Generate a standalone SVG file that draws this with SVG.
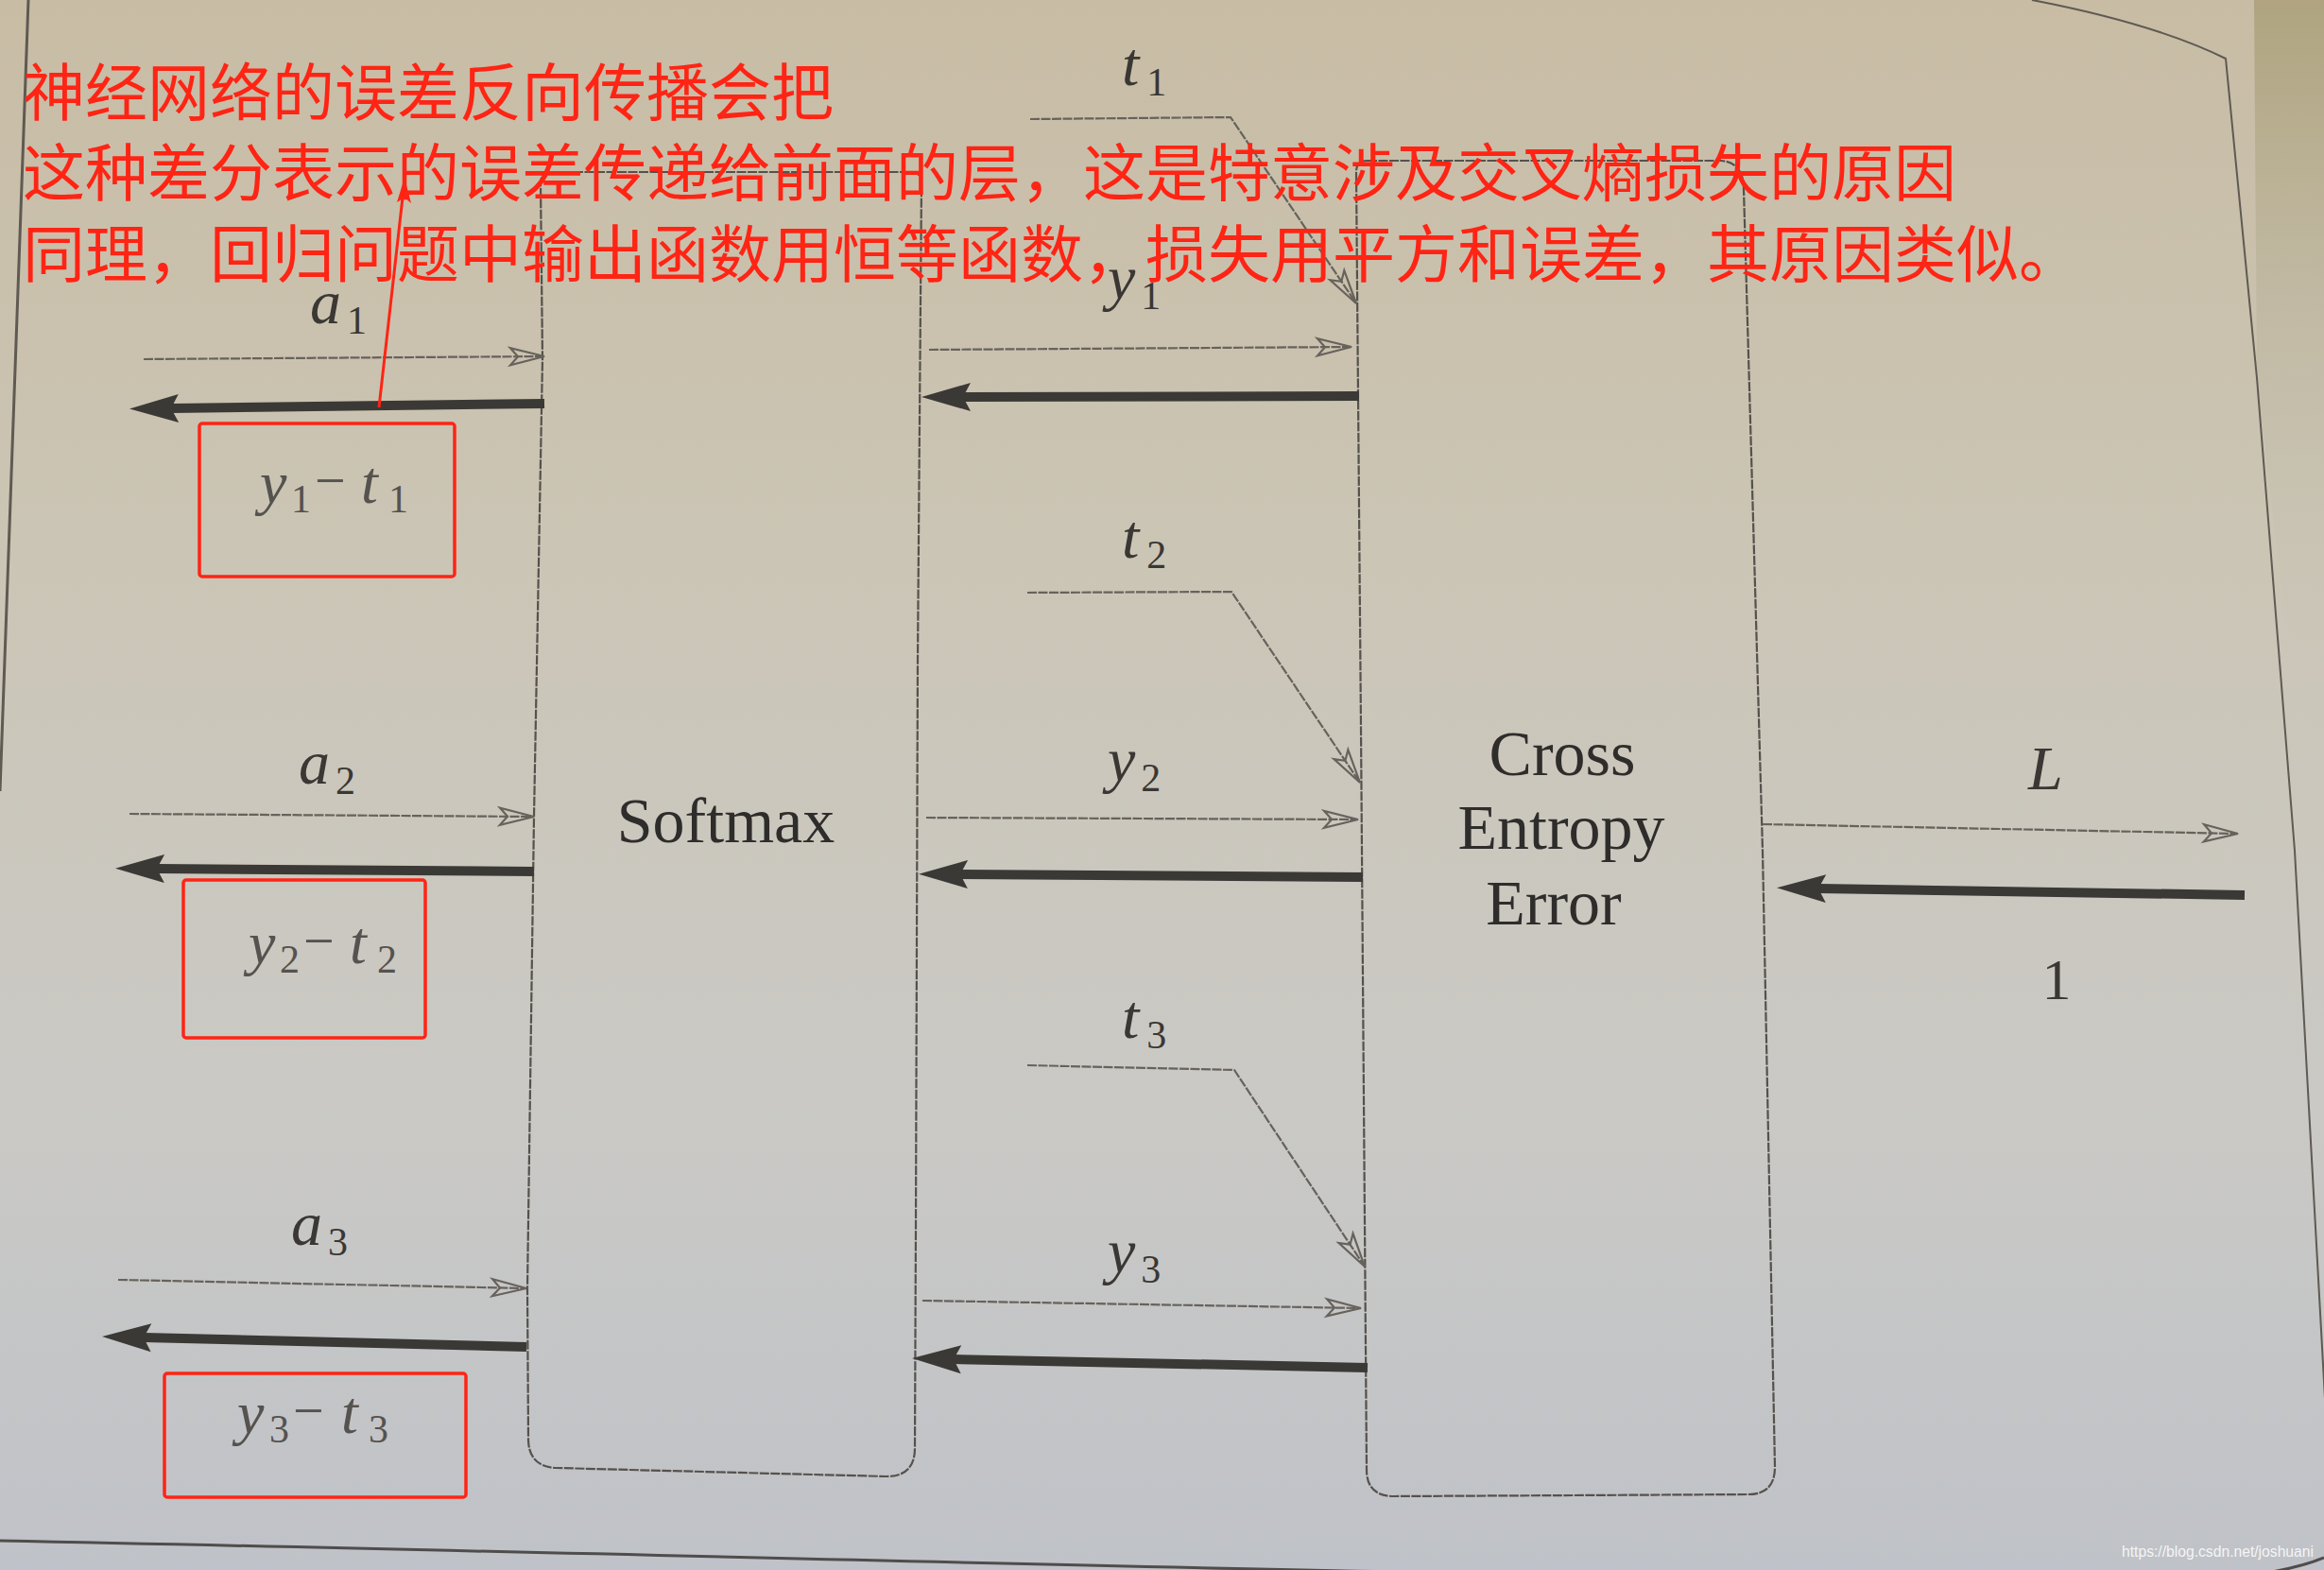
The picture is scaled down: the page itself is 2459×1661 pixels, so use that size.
<svg xmlns="http://www.w3.org/2000/svg" width="2459" height="1661" viewBox="0 0 2459 1661">
<defs>
<linearGradient id="paper" x1="0" y1="0" x2="0" y2="1">
<stop offset="0" stop-color="#c8bca4"/>
<stop offset="0.35" stop-color="#cbc5b5"/>
<stop offset="0.7" stop-color="#cac9c5"/>
<stop offset="1" stop-color="#bfc2c8"/>
</linearGradient>
<linearGradient id="outside" x1="0" y1="0" x2="0" y2="1">
<stop offset="0" stop-color="#afa47f"/>
<stop offset="1" stop-color="#c9c7c0" stop-opacity="0"/>
</linearGradient>
<marker id="open" markerUnits="userSpaceOnUse" markerWidth="60" markerHeight="40" viewBox="-45 -20 60 40" refX="0" refY="0" orient="auto" overflow="visible">
<path d="M0,0 L-36,-9 L-28,0 L-36,9 Z" fill="none" stroke="#67625c" stroke-width="2.2" stroke-linejoin="miter"/>
</marker>
<marker id="solid" markerUnits="userSpaceOnUse" markerWidth="70" markerHeight="40" viewBox="-15 -20 70 40" refX="0" refY="0" orient="auto" overflow="visible">
<path d="M44,0 L-8,-15 L0,0 L-8,15 Z" fill="#3b3936"/>
</marker>
</defs>
<style>
.box{fill:none;stroke:#55514c;stroke-width:2.2;stroke-dasharray:10 1.5}
.fw{fill:none;stroke:#67625c;stroke-width:2.2;stroke-dasharray:10 1.5;marker-end:url(#open)}
.bw{fill:none;stroke:#3b3936;stroke-width:10;marker-end:url(#solid)}
.lbl{font-family:"Liberation Serif",serif;font-style:italic;font-size:66px;fill:#3a3734}
.sub{font-size:42px;font-style:normal}
.name{font-family:"Liberation Serif",serif;font-size:68px;fill:#2f2d2b;text-anchor:middle}
.diff{font-family:"Liberation Serif",serif;font-style:italic;font-size:64px;fill:#55524f}
.mn{font-style:normal;font-size:58px}
.note{font-family:"Noto Sans CJK SC","Noto Sans",sans-serif;font-size:66px;fill:#ff2414}
.redbox{fill:none;stroke:#ff2414;stroke-width:3.5}
</style>

<rect x="0" y="0" width="2459" height="1661" fill="url(#paper)"/>
<path d="M2385,0 L2459,0 L2459,760 L2430,760 L2388,400 Z" fill="url(#outside)"/>
<g id="page-edges" fill="none" stroke="#5f5a52">
<path d="M30,0 L0,837" stroke-width="3"/>
<path d="M2150,0 Q2280,25 2355,62 L2388,400 L2428,900 L2470,1661" stroke-width="2"/>
<path d="M0,1630 C900,1648 1600,1672 2300,1672 C2380,1670 2430,1660 2459,1648" stroke-width="3" stroke="#4f4d4c"/>
</g>

<g id="softmax">
<path class="box" d="M584,182 L963,182 Q975,182 975,194 L971,700 L969,1300 L968,1532 Q968,1562 938,1562 L589,1553 Q559,1552 559,1522 L558,1363 L565,864 L574,380 L572,194 Q572,182 584,182 Z"/>
<text class="name" x="768" y="891">Softmax</text>
</g>

<g id="cross-entropy-error">
<path class="box" d="M1447,170 L1821,170 Q1845,172 1845,200 L1865,900 L1878,1552 Q1878,1581 1850,1581 L1475,1583 Q1446,1583 1446,1555 L1440,770 L1435,182 Q1435,170 1447,170 Z"/>
<text class="name" x="1653" y="820">Cross</text>
<text class="name" x="1652" y="898">Entropy</text>
<text class="name" x="1644" y="978">Error</text>
</g>

<g id="connectors">
<path class="fw" d="M152,380 L576,377"/>
<path class="fw" d="M137,861 L565,864"/>
<path class="fw" d="M125,1354 L557,1363"/>
<path class="bw" d="M576,427 L181,432"/>
<path class="bw" d="M565,922 L166,919"/>
<path class="bw" d="M557,1425 L152,1415"/>
<path class="fw" d="M983,370 L1430,367"/>
<path class="fw" d="M980,865 L1437,867"/>
<path class="fw" d="M976,1376 L1440,1384"/>
<path class="fw" d="M1090,126 L1302,124 L1435,321"/>
<path class="fw" d="M1087,627 L1303,626 L1439,828"/>
<path class="fw" d="M1087,1127 L1306,1132 L1444,1340"/>
<path class="bw" d="M1438,419 L1019,420"/>
<path class="bw" d="M1442,928 L1016,925"/>
<path class="bw" d="M1447,1447 L1009,1438"/>
<path class="fw" d="M1865,872 L2368,882"/>
<path class="bw" d="M2375,947 L1924,940"/>
</g>

<g id="labels">
<text class="lbl" x="328" y="342">a<tspan class="sub" dx="6" dy="11">1</tspan></text>
<text class="lbl" x="316" y="829">a<tspan class="sub" dx="6" dy="11">2</tspan></text>
<text class="lbl" x="308" y="1317">a<tspan class="sub" dx="6" dy="11">3</tspan></text>
<text class="lbl" x="1187" y="90">t<tspan class="sub" dx="8" dy="11">1</tspan></text>
<text class="lbl" x="1187" y="590">t<tspan class="sub" dx="8" dy="11">2</tspan></text>
<text class="lbl" x="1187" y="1098">t<tspan class="sub" dx="8" dy="11">3</tspan></text>
<text class="lbl" x="1172" y="316">y<tspan class="sub" dx="6" dy="11">1</tspan></text>
<text class="lbl" x="1172" y="826">y<tspan class="sub" dx="6" dy="11">2</tspan></text>
<text class="lbl" x="1172" y="1346">y<tspan class="sub" dx="6" dy="11">3</tspan></text>
<text class="lbl" x="2146" y="835">L</text>
<text class="name" x="2176" y="1057" style="font-size:62px;fill:#3a3734">1</text>
</g>

<g id="diff1">
<rect class="redbox" x="211" y="448" width="270" height="162" rx="3"/>
<text class="diff" y="532"><tspan x="275">y</tspan><tspan class="sub" x="308" dy="10">1</tspan><tspan class="mn" x="333" dy="-14">−</tspan><tspan x="382" dy="4">t</tspan><tspan class="sub" x="411" dy="10">1</tspan></text>
</g>
<g id="diff2">
<rect class="redbox" x="194" y="931" width="256" height="167" rx="3"/>
<text class="diff" y="1019"><tspan x="263">y</tspan><tspan class="sub" x="296" dy="10">2</tspan><tspan class="mn" x="321" dy="-14">−</tspan><tspan x="370" dy="4">t</tspan><tspan class="sub" x="399" dy="10">2</tspan></text>
</g>
<g id="diff3">
<rect class="redbox" x="174" y="1453" width="319" height="131" rx="3"/>
<text class="diff" y="1516"><tspan x="251">y</tspan><tspan class="sub" x="285" dy="10">3</tspan><tspan class="mn" x="310" dy="-14">−</tspan><tspan x="361" dy="4">t</tspan><tspan class="sub" x="390" dy="10">3</tspan></text>
</g>

<g id="annotation">
<path d="M401,431 L427,200" fill="none" stroke="#ff2414" stroke-width="3"/>
<path d="M428,188 L420,214 L428,209 L435,215 Z" fill="#ff2414"/>
<text class="note" x="24" y="122">神经网络的误差反向传播会把</text>
<text class="note" x="24" y="207">这种差分表示的误差传递给前面的层，这是特意涉及交叉熵损失的原因</text>
<text class="note" x="24" y="293">同理，回归问题中输出函数用恒等函数，损失用平方和误差，其原因类似。</text>
</g>

<text x="2245" y="1647" font-family="Liberation Sans, Arial, sans-serif" font-size="16" textLength="203" lengthAdjust="spacingAndGlyphs" fill="#ffffff" fill-opacity="0.85">https://blog.csdn.net/joshuani</text>
</svg>
